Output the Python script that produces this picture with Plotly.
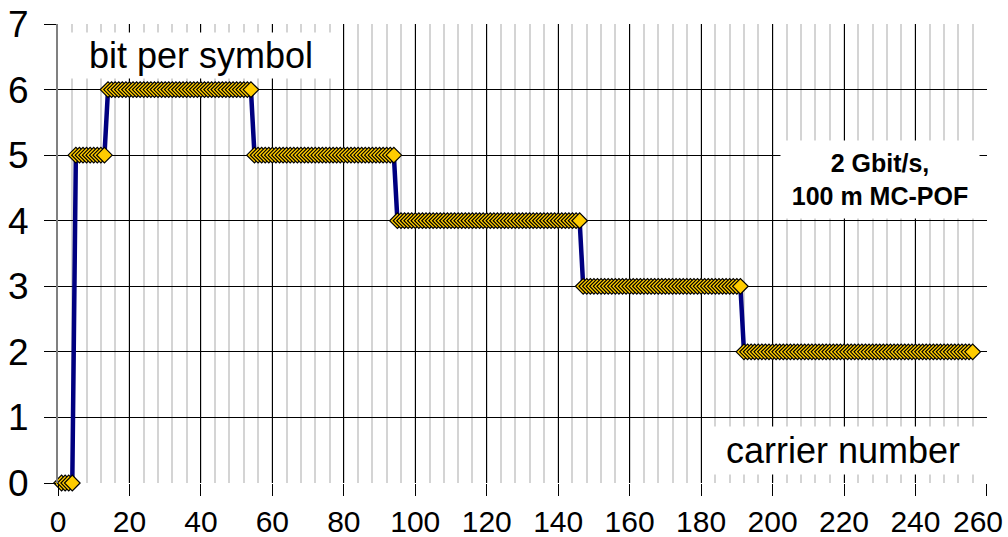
import plotly.graph_objects as go

# Carrier numbers and bit loading
carriers = list(range(1, 257))
bits = ([0] * 4 + [5] * 9 + [6] * 41 + [5] * 40 + [4] * 52 + [3] * 45 + [2] * 65)

x_ticks = [0, 20, 40, 60, 80, 100, 120, 140, 160, 180, 200, 220, 240, 260]
x_tick_text = ["0", "20", "40", "60", "80", "100", "120", "140", "160", "180",
               "200", "220", "240", ""]
last_x_label = "260"
y_ticks = [0, 1, 2, 3, 4, 5, 6, 7]

FONT = "Arial, Liberation Sans, sans-serif"

fig = go.Figure()
fig.add_trace(go.Scatter(
    x=carriers, y=bits, mode="lines+markers",
    line=dict(color="#000080", width=4.5),
    marker=dict(symbol="diamond", size=12, color="#FFCC00",
                line=dict(color="#000000", width=1.2)),
    showlegend=False, hoverinfo="skip", cliponaxis=False,
))

fig.update_layout(
    width=1008, height=537,
    margin=dict(l=58, r=21, t=24, b=54, autoexpand=False),
    paper_bgcolor="white", plot_bgcolor="white",
    font=dict(family=FONT, color="black"),
    xaxis=dict(
        range=[0, 260.02], tickmode="array", tickvals=x_ticks,
        ticktext=x_tick_text, automargin=False,
        showgrid=True, gridcolor="#000000", gridwidth=1,
        ticks="outside", ticklen=12, tickcolor="#000000", tickwidth=1,
        tickfont=dict(size=30, family=FONT),
        minor=dict(dtick=4, tick0=0, showgrid=True, gridcolor="#d4d4d4", gridwidth=2),
        zeroline=False, showline=False, ticklabelstandoff=0,
    ),
    yaxis=dict(
        range=[0, 7], tickmode="array", tickvals=y_ticks,
        ticktext=[str(v) for v in y_ticks], automargin=False,
        showgrid=True, gridcolor="#000000", gridwidth=1,
        ticks="outside", ticklen=12, tickcolor="#000000", tickwidth=1,
        tickfont=dict(size=37, family=FONT),
        zeroline=False, showline=True, linecolor="#808080", linewidth=2,
        ticklabelstandoff=8,
    ),
    annotations=[
        dict(text="bit per symbol", x=40, y=6.52, xref="x", yref="y",
             showarrow=False, font=dict(size=36, family=FONT, color="black"),
             bgcolor="white", width=258, height=43, xanchor="center", yanchor="middle"),
        dict(text="carrier number", x=219.8, y=0.5, xref="x", yref="y",
             showarrow=False, font=dict(size=36, family=FONT, color="black"),
             bgcolor="white", width=270, height=45, xanchor="center", yanchor="middle"),
        dict(text="<b>2 Gbit/s,</b><br><b>100 m MC-POF</b>", x=230, y=4.63,
             xref="x", yref="y", showarrow=False,
             font=dict(size=25, family=FONT, color="black"),
             bgcolor="white", width=196, height=75, xanchor="center", yanchor="middle"),
        dict(text=last_x_label, x=x_ticks[-1], y=0, xref="x", yref="paper",
             showarrow=False, font=dict(size=30, family=FONT, color="black"),
             xanchor="right", yanchor="top", xshift=17, yshift=-21, borderpad=0),
    ],
)

fig.write_html("out.html")
